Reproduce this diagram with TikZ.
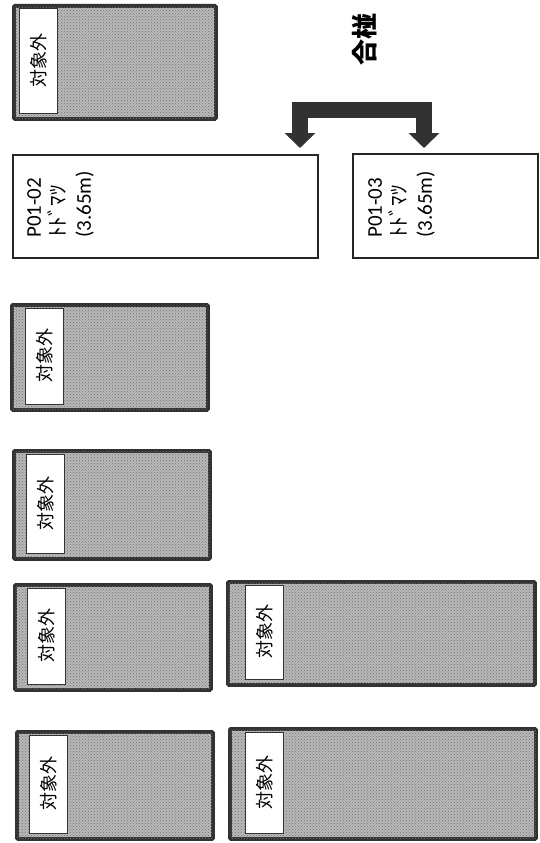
\documentclass[tikz,border=0pt]{standalone}
\usepackage{fontspec}
\setmainfont{Carlito}
\newfontfamily\jp{Noto Sans CJK JP}
\usetikzlibrary{arrows.meta,patterns}
\definecolor{bd}{RGB}{50,50,50}
\definecolor{gf}{RGB}{185,185,185}
\tikzset{
 gbox/.style={draw=bd, fill=gf, line width=3.8pt, rounded corners=1pt, inner sep=0pt, anchor=north west,
   postaction={pattern=crosshatch dots, pattern color=bd!70}},
 glabel/.style={draw=bd, line width=0.6pt, fill=white, inner sep=0pt, anchor=north west, minimum width=38pt, font=\jp\fontsize{18}{20}\selectfont},
 pbox/.style={draw=black!85, line width=1.5pt, fill=white, inner sep=0pt, anchor=north west},
 ptext/.style={rotate=90, anchor=north west, align=left, inner sep=0pt, font=\fontsize{21}{25}\selectfont},
 bracket/.style={draw=bd, line width=16pt, line join=miter, {Triangle[width=30pt,length=15pt]}-{Triangle[width=30pt,length=15pt]}}
}
\newcommand\gbx[6]{%
 \node[gbox, minimum width=#4pt, minimum height=#5pt] (#1) at (#2,#3) {};
 \node[glabel, minimum height={(#5-9)*1pt}] (#1t) at ([shift={(#6pt,-4.5pt)}]#1.north west) {\rotatebox{90}{対象外}};}
\begin{document}
\begin{tikzpicture}[x=1pt,y=-1pt]
\useasboundingbox (0,0) rectangle (540,843);
% gray boxes
\gbx{b1}{12}{4}{202}{113}{7}
\gbx{b3}{10}{303}{196}{105}{15}
\gbx{b4}{12}{449}{196}{108}{14}
\gbx{b5}{13}{583}{196}{105}{14}
\gbx{b6}{226}{580}{307}{103}{19}
\gbx{b7}{15}{730}{196}{107}{14}
\gbx{b8}{228}{727}{306}{110}{17}
% P01 boxes
\node[pbox, minimum width=305pt, minimum height=103pt] (p2) at (12,154) {};
\node[pbox, minimum width=185pt, minimum height=104pt] (p3) at (352,153) {};
\node[ptext] (p2t) at (27,238) {P01-02\\{\jp ﾄﾄﾞﾏﾂ}\\(3.65m)};
\node[ptext] (p3t) at (368,238) {P01-03\\{\jp ﾄﾄﾞﾏﾂ}\\(3.65m)};
% title
\node[rotate=90, inner sep=0pt, font=\jp\bfseries\fontsize{26}{30}\selectfont] (title) at (365,40) {合椪};
% bracket arrow
\coordinate (al) at (300,148);
\coordinate (ar) at (424,148);
\draw[bracket] (al) -- (300,110) -- (424,110) -- (ar);
\end{tikzpicture}
\end{document}
